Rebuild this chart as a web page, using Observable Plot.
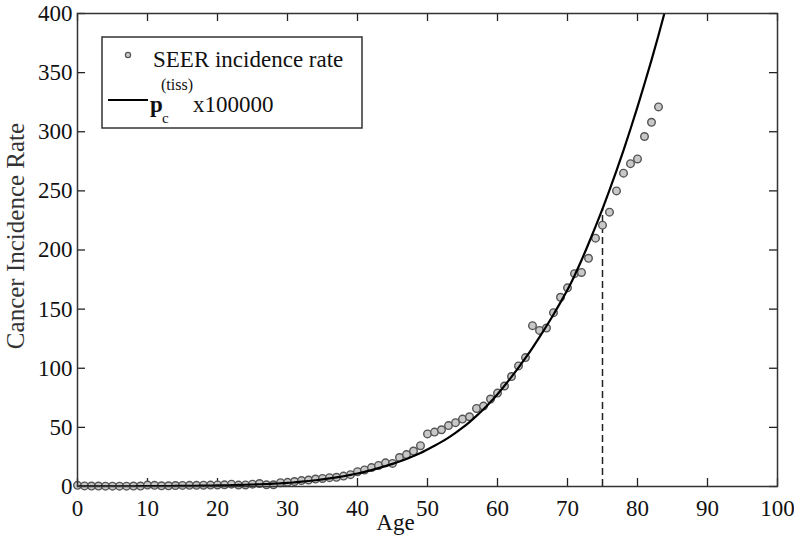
<!DOCTYPE html>
<html>
<head>
<meta charset="utf-8">
<script src="https://cdn.jsdelivr.net/npm/d3@7"></script>
<script src="https://cdn.jsdelivr.net/npm/@observablehq/plot@0.6"></script>
<style>
  html, body { margin: 0; padding: 0; background: #fff; }
  #chart svg { display: block; }
  #chart svg text { font-family: "Liberation Serif", "Times New Roman", serif !important; }
</style>
</head>
<body>
<div id="chart"></div>
<script>
// SEER incidence rate per 100000, ages 0..83
const seerAges = d3.range(0, 84);
const seerRates = [
  1.0, 0.5, 0.4, 0.4, 0.3, 0.3, 0.3, 0.3, 0.4, 0.4,
  1.2, 1.0, 0.6, 0.6, 0.8, 0.9, 1.0, 1.0, 1.1, 1.2,
  1.3, 1.4, 2.0, 1.2, 1.3, 2.0, 2.5, 1.5, 1.5, 3.2,
  3.5, 4.2, 5.0, 5.5, 6.3, 6.8, 7.5, 7.8, 8.8, 10.0,
  12.5, 14, 16, 17.8, 20, 19.5, 24.5, 27, 30, 34.5,
  44.5, 46, 48, 51.5, 54, 57, 59, 66, 68, 74,
  79, 85, 93, 102, 109, 136, 132, 134, 147, 160,
  168, 180, 181, 193, 210, 221, 232, 250, 265, 273,
  277, 296, 308, 321
];
// model curve p_c^(tiss) x 100000, ages 0..84
const modelAges = d3.range(0, 85);
const modelRates = [
  0.05, 0.06, 0.08, 0.1, 0.12, 0.15, 0.18, 0.2, 0.23, 0.27,
  0.3, 0.33, 0.37, 0.41, 0.45, 0.5, 0.56, 0.63, 0.7, 0.8,
  0.9, 1.0, 1.1, 1.3, 1.5, 1.7, 1.9, 2.1, 2.4, 2.7,
  3.0, 3.5, 4.05, 4.65, 5.3, 6.0, 6.8, 7.7, 8.7, 9.8,
  11, 12.4, 13.9, 15.5, 17.2, 19.1, 21.1, 23.3, 25.7, 28.3,
  31.3, 34.4, 37.7, 41.3, 45.3, 49.7, 54.5, 59.7, 65.3, 71.4,
  78, 85.2, 92.7, 100.5, 108.7, 117.3, 126.3, 135.7, 145.5, 155.7,
  166.3, 178.3, 191.3, 205.3, 219.8, 234.8, 250.6, 267.1, 284.3, 302.3,
  321.1, 340.6, 360.6, 381.6, 403.6
];
const markerAge = 75;
const xTicks = [0, 10, 20, 30, 40, 50, 60, 70, 80, 90, 100];
const yTicks = [0, 50, 100, 150, 200, 250, 300, 350, 400];
const legendLabels = ["SEER incidence rate", "x100000"];

const seer = seerAges.map((a, i) => ({age: a, rate: seerRates[i]}));
const model = modelAges.map((a, i) => ({age: a, rate: modelRates[i]}));
const markerTop = modelRates[modelAges.indexOf(markerAge)];

const W = 794, H = 539;
const mL = 77, mR = 17, mT = 13, mB = 53;
const fw = W - mL - mR, fh = H - mT - mB;
const tk = 8;
const font = '"Liberation Serif", "Times New Roman", serif';

const plot = Plot.plot({
  width: W, height: H,
  marginLeft: mL, marginRight: mR, marginTop: mT, marginBottom: mB,
  style: {fontFamily: font, fontSize: "23px", background: "#fff", color: "#111"},
  x: {domain: [0, 100]},
  y: {domain: [0, 400]},
  marks: [
    Plot.axisX(xTicks, {tickSize: 0, tickPadding: 13, label: null, fontSize: 23, fontFamily: font}),
    Plot.axisY(yTicks, {tickSize: 0, tickPadding: 5, label: null, fontSize: 23, fontFamily: font}),
    // inward ticks
    Plot.tickX(xTicks, {x: d => d, insetTop: fh - tk, stroke: "#222", strokeWidth: 1.3}),
    Plot.tickX(xTicks, {x: d => d, insetBottom: fh - tk, stroke: "#222", strokeWidth: 1.3}),
    Plot.tickY(yTicks, {y: d => d, insetRight: fw - tk, stroke: "#222", strokeWidth: 1.3}),
    Plot.tickY(yTicks, {y: d => d, insetLeft: fw - tk, stroke: "#222", strokeWidth: 1.3}),
    Plot.ruleX([markerAge], {x: d => d, y1: 0, y2: markerTop, stroke: "#222", strokeWidth: 1.5, strokeDasharray: "7,4"}),
    Plot.dot(seer, {x: "age", y: "rate", r: 3.8, fill: "#c8c8c8", stroke: "#555", strokeWidth: 1.4}),
    Plot.line(model, {x: "age", y: "rate", stroke: "#000", strokeWidth: 2.2, clip: "frame", curve: "monotone-x"}),
    Plot.frame({stroke: "#333", strokeWidth: 1.5}),
    Plot.text(["Age"], {frameAnchor: "bottom", text: d => d, textAnchor: "middle", lineAnchor: "middle", dx: -32, dy: 36, fontSize: 23, fontFamily: font, fill: "#111"}),
    Plot.text(["Cancer Incidence Rate"], {frameAnchor: "left", text: d => d, textAnchor: "middle", lineAnchor: "middle", rotate: -90, dx: -62, dy: -14, fontSize: 25, fontFamily: font, fill: "#333"})
  ]
});

// legend
const svg = d3.select(plot);
const lg = svg.append("g").attr("fill", "#111").attr("text-anchor", "start");
lg.append("rect").attr("x", 102).attr("y", 37).attr("width", 260).attr("height", 91)
  .attr("fill", "#fff").attr("stroke", "#333").attr("stroke-width", 1.5);
lg.append("circle").attr("cx", 128).attr("cy", 55).attr("r", 2.6)
  .attr("fill", "#c8c8c8").attr("stroke", "#555").attr("stroke-width", 1.2);
lg.append("text").attr("x", 153).attr("y", 67).style("font-size", "23px").text(legendLabels[0]);
lg.append("line").attr("x1", 108).attr("x2", 148).attr("y1", 100).attr("y2", 100)
  .attr("stroke", "#000").attr("stroke-width", 2.2);
lg.append("text").attr("x", 150).attr("y", 112).style("font-size", "23px").style("font-weight", "bold").text("p");
lg.append("text").attr("x", 161).attr("y", 90).style("font-size", "16px").text("(tiss)");
lg.append("text").attr("x", 162).attr("y", 123).style("font-size", "15px").text("c");
lg.append("text").attr("x", 193).attr("y", 112).style("font-size", "23px").text(legendLabels[1]);

document.getElementById("chart").appendChild(plot);
</script>
</body>
</html>
